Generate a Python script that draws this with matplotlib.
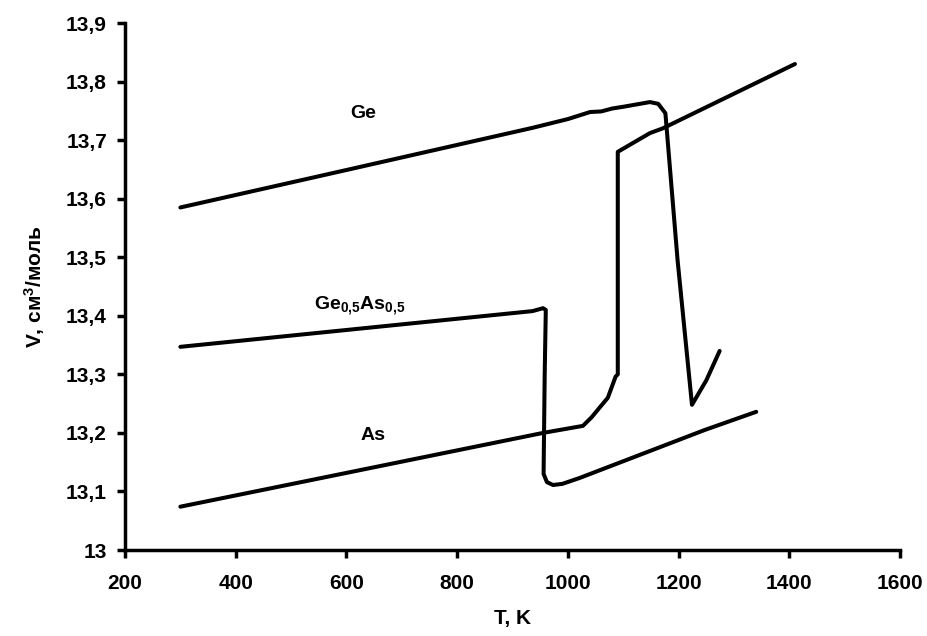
import matplotlib
matplotlib.use("Agg")
import matplotlib.pyplot as plt
from matplotlib.ticker import FuncFormatter, MultipleLocator

plt.rcParams["font.family"] = ["Liberation Sans", "DejaVu Sans"]
plt.rcParams["font.weight"] = "bold"
plt.rcParams["mathtext.fontset"] = "custom"
plt.rcParams["mathtext.rm"] = "Liberation Sans:bold"
plt.rcParams["mathtext.it"] = "Liberation Sans:bold"
plt.rcParams["mathtext.bf"] = "Liberation Sans:bold"

# Ge: solid expands linearly, then contracts on melting
ge_t = [300, 600, 936, 1000, 1020, 1040, 1060, 1080, 1100, 1148, 1163, 1176,
        1198, 1224, 1250, 1274]
ge_v = [13.585, 13.649, 13.721, 13.736, 13.742, 13.748, 13.749, 13.754, 13.757,
        13.765, 13.762, 13.746, 13.495, 13.248, 13.290, 13.340]

# As: jump up at melting
as_t = [300, 955, 1027, 1043, 1057, 1072, 1086, 1090, 1090, 1148, 1171, 1410]
as_v = [13.074, 13.200, 13.212, 13.227, 13.243, 13.260, 13.296, 13.300,
        13.680, 13.712, 13.720, 13.830]

# Ge0.5As0.5
geas_t = [300, 936, 955, 960, 958, 956, 962, 973, 990, 1021, 1247, 1340]
geas_v = [13.347, 13.408, 13.413, 13.410, 13.300, 13.130, 13.116, 13.111,
          13.113, 13.123, 13.205, 13.236]

fig = plt.figure(figsize=(9.28, 6.36), dpi=100)
ax = fig.add_axes([0.1347, 0.1352, 0.8353, 0.8286])

lw = 2.9
for t, v in [(ge_t, ge_v), (as_t, as_v), (geas_t, geas_v)]:
    ax.plot(t, v, color="black", lw=lw, solid_joinstyle="round",
            solid_capstyle="round")

ax.text(630, 13.745, "Ge", fontsize=14, fontweight="bold", ha="center", va="center")
ax.text(624, 13.418, r"Ge$_{0{,}5}$As$_{0{,}5}$", fontsize=14, fontweight="bold",
        ha="center", va="center")
ax.text(648, 13.196, "As", fontsize=14, fontweight="bold", ha="center", va="center")

ax.set_xlim(200, 1600)
ax.set_ylim(13.0, 13.9)
ax.xaxis.set_major_locator(MultipleLocator(200))
ax.yaxis.set_major_locator(MultipleLocator(0.1))


def fmt_y(v, pos):
    s = f"{v:.1f}"
    if s.endswith(".0"):
        s = s[:-2]
    return s.replace(".", ",")


ax.yaxis.set_major_formatter(FuncFormatter(fmt_y))

for side in ["top", "right"]:
    ax.spines[side].set_visible(False)
for side in ["left", "bottom"]:
    ax.spines[side].set_linewidth(2.5)

ax.tick_params(axis="both", direction="out", length=6, width=2.5, labelsize=15)
ax.tick_params(axis="x", pad=11)
ax.tick_params(axis="y", pad=7)
for lab in ax.get_xticklabels() + ax.get_yticklabels():
    lab.set_fontweight("bold")

ax.set_xlabel("T, K", fontsize=15, fontweight="bold", labelpad=12)
ax.set_ylabel(r"V, см$^3$/моль", fontsize=15, fontweight="bold", labelpad=14)

fig.savefig("out.png", dpi=100)
plt.close(fig)
